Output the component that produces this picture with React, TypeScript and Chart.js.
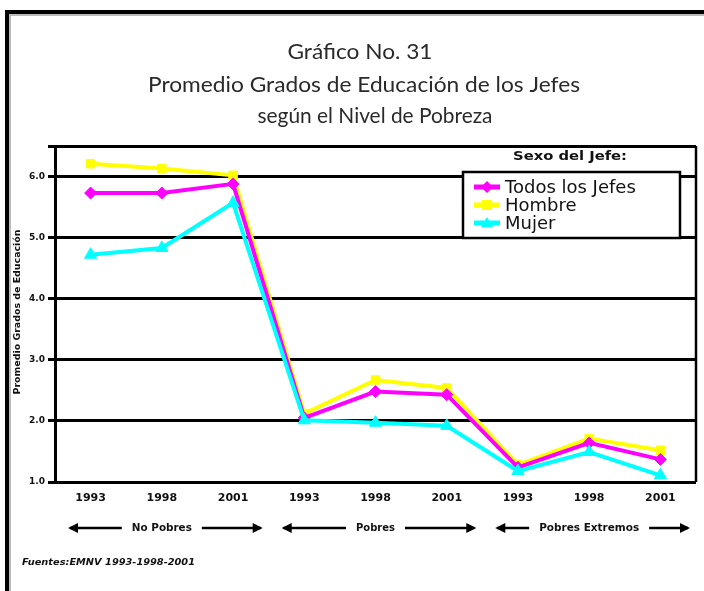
import React, { useEffect, useRef } from 'react';
import { Chart, registerables } from 'chart.js';

Chart.register(...registerables);

const years = ['1993', '1998', '2001', '1993', '1998', '2001', '1993', '1998', '2001'];
const groups = ['No Pobres', 'Pobres', 'Pobres Extremos'];
const todos = [5.73, 5.73, 5.88, 2.05, 2.48, 2.43, 1.24, 1.64, 1.37];
const hombre = [6.21, 6.13, 6.02, 2.12, 2.67, 2.54, 1.28, 1.71, 1.52];
const mujer = [4.72, 4.83, 5.57, 2.01, 1.97, 1.92, 1.18, 1.49, 1.11];
const seriesNames = ['Todos los Jefes', 'Hombre', 'Mujer'];
const yTickValues = [1, 2, 3, 4, 5, 6];
const yMin = 1;
const yMax = 6.5;
const titleLines = ['Gráfico No. 31', 'Promedio Grados de Educación de los Jefes', 'según el Nivel de Pobreza'];
const yTitle = 'Promedio Grados de Educación';
const legendTitle = 'Sexo del Jefe:';
const source = 'Fuentes:EMNV 1993-1998-2001';

const COLORS = ['#FF00FF', '#FFFF00', '#00FFFF'];
const STYLES = ['rectRot', 'rect', 'triangle'];

function fitText(ctx: CanvasRenderingContext2D, text: string, font: string, x: number, y: number, w: number, align: CanvasTextAlign = 'center', rot = 0, color = '#111') {
  ctx.save();
  ctx.font = font;
  ctx.fillStyle = color;
  const m = ctx.measureText(text).width;
  ctx.translate(x, y);
  if (rot) ctx.rotate(rot);
  ctx.scale(w / m, 1);
  ctx.textAlign = align;
  ctx.textBaseline = 'middle';
  ctx.fillText(text, 0, 0);
  ctx.restore();
}

function arrow(ctx: CanvasRenderingContext2D, x1: number, x2: number, y: number, headLeft: boolean) {
  ctx.save();
  ctx.strokeStyle = '#000';
  ctx.fillStyle = '#000';
  ctx.lineWidth = 2.5;
  ctx.beginPath();
  ctx.moveTo(x1, y);
  ctx.lineTo(x2, y);
  ctx.stroke();
  ctx.beginPath();
  if (headLeft) {
    ctx.moveTo(x1 - 2, y);
    ctx.lineTo(x1 + 8, y - 5);
    ctx.lineTo(x1 + 8, y + 5);
  } else {
    ctx.moveTo(x2 + 2, y);
    ctx.lineTo(x2 - 8, y - 5);
    ctx.lineTo(x2 - 8, y + 5);
  }
  ctx.closePath();
  ctx.fill();
  ctx.restore();
}

const decorPlugin = {
  id: 'decor',
  beforeDraw(chart: any) {
    const ctx = chart.ctx as CanvasRenderingContext2D;
    ctx.save();
    ctx.fillStyle = '#fff';
    ctx.fillRect(0, 0, chart.width, chart.height);
    ctx.fillStyle = '#000';
    ctx.fillRect(5, 10, 4, chart.height - 10);
    ctx.fillRect(5, 10, chart.width - 5, 4);
    ctx.fillStyle = '#bbb';
    ctx.fillRect(9, 14, 2, chart.height - 14);
    ctx.fillRect(9, 14, chart.width - 9, 2);
    ctx.restore();
  },
  afterDraw(chart: any) {
    const ctx = chart.ctx as CanvasRenderingContext2D;
    const ca = chart.chartArea;
    const x = chart.scales.x;
    ctx.save();
    ctx.strokeStyle = '#000';
    ctx.lineWidth = 2.5;
    ctx.beginPath();
    ctx.moveTo(ca.right, ca.top);
    ctx.lineTo(ca.right, ca.bottom);
    ctx.stroke();
    ctx.restore();

    // title
    fitText(ctx, titleLines[0], '21px Lato', 360, 52, 145, 'center', 0, '#2a2a2a');
    fitText(ctx, titleLines[1], '21px Lato', 364, 85, 432, 'center', 0, '#2a2a2a');
    fitText(ctx, titleLines[2], '21px Lato', 375, 116, 235, 'center', 0, '#2a2a2a');

    // y-axis title
    fitText(ctx, yTitle, 'bold 9px "DejaVu Sans"', 18, (ca.top + ca.bottom) / 2 - 2, 165, 'center', -Math.PI / 2);

    // group labels with arrows
    const step = x.getPixelForValue(1) - x.getPixelForValue(0);
    const groupWidths = [60, 39, 100];
    groups.forEach((g, i) => {
      const cx = x.getPixelForValue(i * 3 + 1);
      const gs = cx - 1.5 * step;
      const ge = cx + 1.5 * step;
      const w = groupWidths[i];
      const y = 528;
      fitText(ctx, g, 'bold 11px "DejaVu Sans"', cx, y, w, 'center');
      arrow(ctx, gs + 15, cx - w / 2 - 10, y, true);
      arrow(ctx, cx + w / 2 + 10, ge - 8, y, false);
    });

    // source
    fitText(ctx, source, 'italic bold 9px "DejaVu Sans"', 22, 563, 173, 'left');

    // legend
    fitText(ctx, legendTitle, 'bold 12px "DejaVu Sans"', 570, 157, 114, 'center');
    ctx.save();
    ctx.fillStyle = '#fff';
    ctx.fillRect(463, 172, 217, 66);
    ctx.strokeStyle = '#000';
    ctx.lineWidth = 2.5;
    ctx.strokeRect(463, 172, 217, 66);
    ctx.restore();
    const rows = [187, 205, 223];
    seriesNames.forEach((n, i) => {
      const y = rows[i];
      ctx.save();
      ctx.strokeStyle = COLORS[i];
      ctx.lineWidth = 5;
      ctx.beginPath();
      ctx.moveTo(474, y);
      ctx.lineTo(500, y);
      ctx.stroke();
      ctx.fillStyle = COLORS[i];
      const r = 6;
      ctx.beginPath();
      if (i === 0) {
        ctx.moveTo(487 - r, y); ctx.lineTo(487, y - r); ctx.lineTo(487 + r, y); ctx.lineTo(487, y + r);
      } else if (i === 1) {
        ctx.rect(487 - 5, y - 5, 10, 10);
      } else {
        ctx.moveTo(487, y - r); ctx.lineTo(487 + r, y + r * 0.7); ctx.lineTo(487 - r, y + r * 0.7);
      }
      ctx.closePath();
      ctx.fill();
      ctx.fillStyle = '#111';
      ctx.font = '18px "DejaVu Sans"';
      ctx.textBaseline = 'middle';
      ctx.textAlign = 'left';
      ctx.fillText(n, 505, y + 1);
      ctx.restore();
    });
  },
};

export default function App() {
  const ref = useRef<HTMLCanvasElement>(null);
  useEffect(() => {
    const mk = (data: number[], i: number, order: number) => ({
      label: seriesNames[i],
      data,
      borderColor: COLORS[i],
      backgroundColor: COLORS[i],
      borderWidth: 4,
      pointStyle: STYLES[i],
      pointRadius: i === 2 ? 7 : 6,
      pointBorderWidth: 1,
      tension: 0,
      order,
    });
    const chart = new Chart(ref.current!, {
      type: 'line',
      data: {
        labels: years,
        datasets: [mk(todos, 0, 1), mk(hombre, 1, 2), mk(mujer, 2, 0)],
      },
      plugins: [decorPlugin],
      options: {
        responsive: false,
        animation: false,
        layout: { padding: { top: 146, left: 0, right: 2, bottom: 0 } },
        plugins: { legend: { display: false }, title: { display: false }, tooltip: { enabled: false } },
        scales: {
          x: {
            type: 'category',
            offset: true,
            grid: { display: false, drawTicks: false },
            border: { display: false },
            ticks: { color: '#111', font: { family: 'DejaVu Sans', size: 11, weight: 'bold' }, padding: 10, maxRotation: 0, autoSkip: false },
            afterFit: (s: any) => { s.height = 109; },
          },
          y: {
            min: yMin,
            max: yMax,
            afterBuildTicks: (s: any) => { s.ticks = [...yTickValues, yMax].map((v) => ({ value: v })); },
            afterFit: (s: any) => { s.width = 55; },
            grid: { color: '#000', lineWidth: 3, tickLength: 7, drawTicks: true },
            border: { display: true, color: '#000', width: 3 },
            ticks: {
              color: '#111',
              padding: 3,
              font: { family: 'DejaVu Sans', size: 9, weight: 'bold' },
              callback: (v: any) => (yTickValues.includes(Number(v)) ? Number(v).toFixed(1) : ''),
            },
          },
        },
      } as any,
    });
    return () => chart.destroy();
  }, []);
  return (
    <div style={{ position: 'fixed', left: 0, top: 0, width: 704, height: 591 }}>
      <canvas ref={ref} width={704} height={591} style={{ width: 704, height: 591, display: 'block' }} />
    </div>
  );
}
